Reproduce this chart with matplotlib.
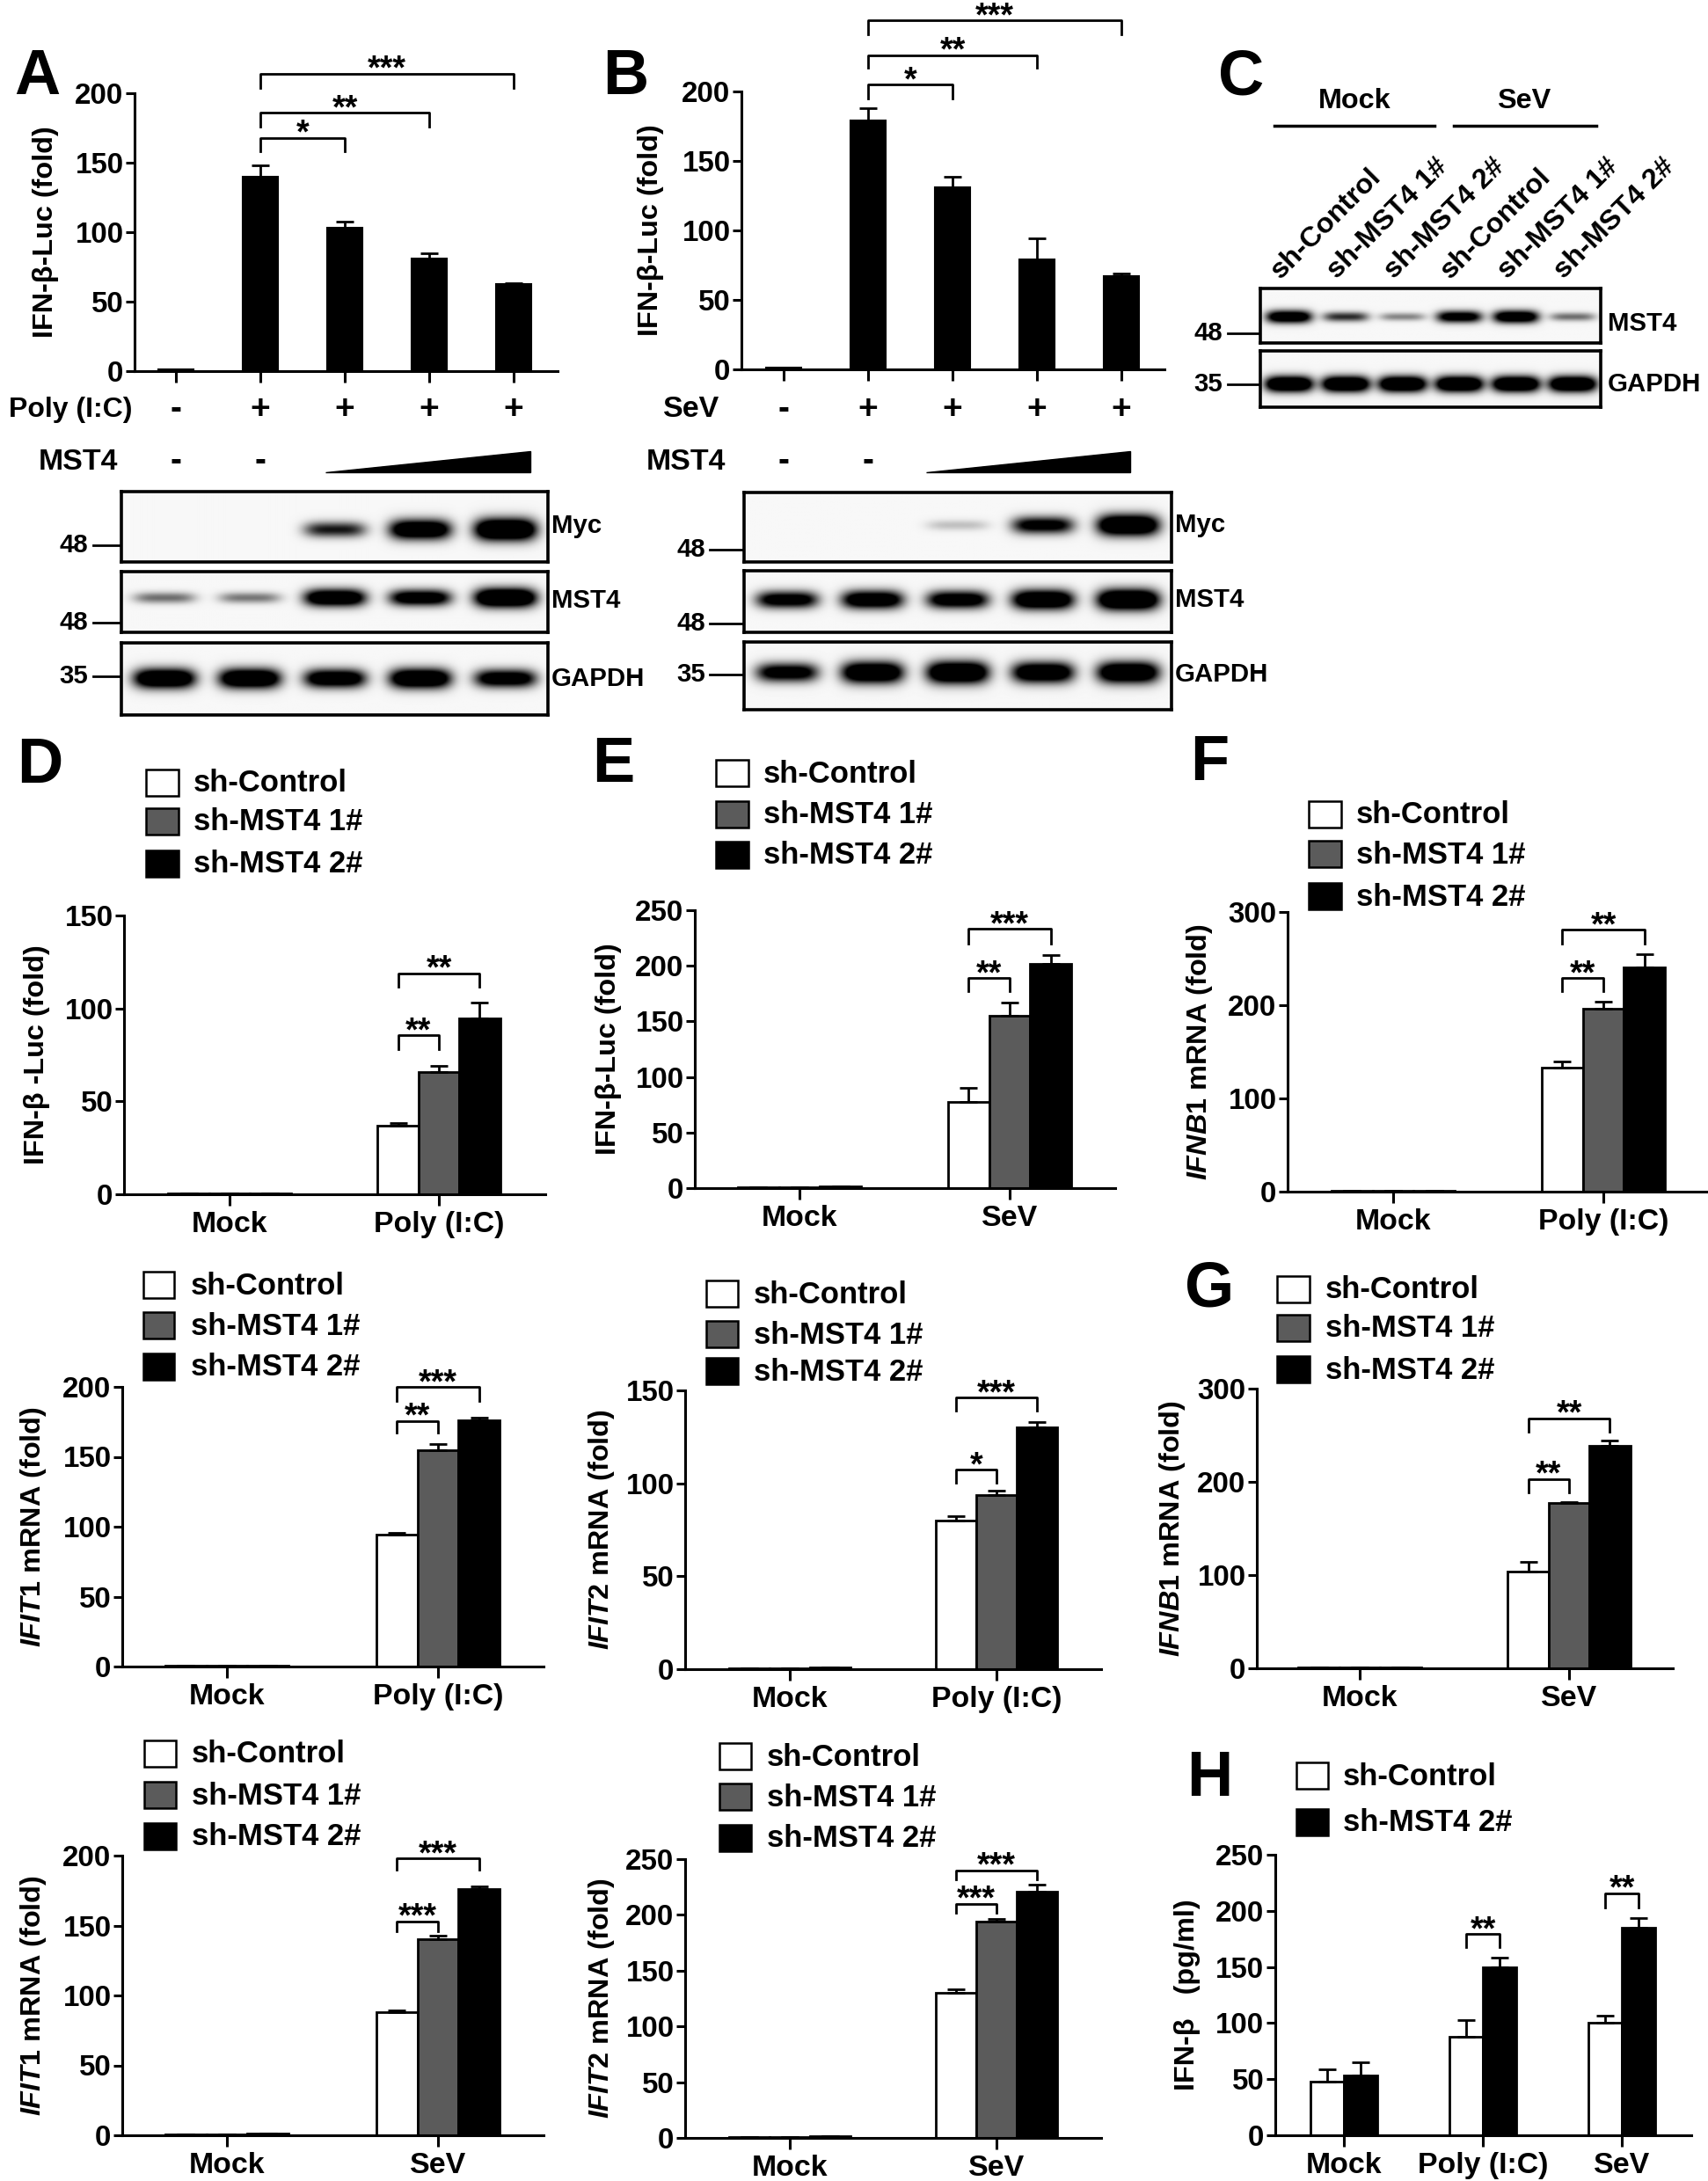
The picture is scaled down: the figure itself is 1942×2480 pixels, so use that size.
import numpy as np
import matplotlib
matplotlib.use("Agg")
import matplotlib.pyplot as plt
from matplotlib import transforms, font_manager
from matplotlib.patches import Rectangle, Polygon

# the figure uses a condensed bold Arial-like face
installed = {f.name for f in font_manager.fontManager.ttflist}
if "Liberation Sans Narrow" in installed:
    FACE, K = "Liberation Sans Narrow", 1.2
else:
    FACE, K = "Liberation Sans", 1.06
WIDE = "Liberation Sans"

plt.rcParams["font.family"] = [FACE, "Liberation Sans", "DejaVu Sans"]
plt.rcParams["font.weight"] = "bold"
plt.rcParams["axes.labelweight"] = "bold"
plt.rcParams["mathtext.fontset"] = "custom"
plt.rcParams["mathtext.it"] = FACE + ":italic:bold"
plt.rcParams["mathtext.rm"] = FACE + ":bold"

W, H = 1942, 2480

# ---------------- data ----------------
# A / B : IFN-b luciferase, increasing MST4
ab_lanes = [0, 1, 2, 3, 4]
treat_signs = ["-", "+", "+", "+", "+"]
mst4_signs = ["-", "-"]
a_mean = [1.0, 140, 103, 81, 62.5]
a_err = [0, 8, 4.5, 4, 1]
a_sig = [(1, 2, 168, 158, "*"), (1, 3, 186, 176, "**"), (1, 4, 214, 204, "***")]
b_mean = [1.0, 179, 131, 79, 67]
b_err = [0, 9, 7.5, 15, 2.3]
b_sig = [(1, 2, 205, 195, "*"), (1, 3, 226, 217, "**"), (1, 4, 251, 241, "***")]

# western blot band strength (0 = no band, 1 = saturated)
a_myc = [0, 0, 0.5, 0.85, 1.0]
a_mst4 = [0.3, 0.28, 0.85, 0.75, 1.0]
a_gapdh = [0.9, 0.9, 0.8, 0.9, 0.75]
b_myc = [0, 0, 0.12, 0.65, 0.95]
b_mst4 = [0.7, 0.8, 0.75, 0.9, 1.0]
b_gapdh = [0.7, 0.9, 0.95, 0.85, 0.9]
c_lanes = ["sh-Control", "sh-MST4 1#", "sh-MST4 2#", "sh-Control", "sh-MST4 1#", "sh-MST4 2#"]
c_mst4 = [0.8, 0.45, 0.25, 0.7, 0.8, 0.3]
c_gapdh = [0.95, 0.95, 0.95, 0.95, 0.95, 0.95]

sh_names = ["sh-Control", "sh-MST4 1#", "sh-MST4 2#"]
sh_colors = ["white", "#5b5b5b", "black"]

# D
d_groups = ["Mock", "Poly (I:C)"]
d_ctrl, d_ctrl_err = [0.6, 37], [0, 1.3]
d_sh1, d_sh1_err = [0.4, 66], [0, 3]
d_sh2, d_sh2_err = [0.6, 94.5], [0, 8.8]
d_sig = [((1, 0), (1, 1), 85.5, 78, "**"), ((1, 0), (1, 2), 119, 111.7, "**")]
# E
e_groups = ["Mock", "SeV"]
e_ctrl, e_ctrl_err = [1, 77.5], [0, 12.5]
e_sh1, e_sh1_err = [0.8, 155], [0, 12]
e_sh2, e_sh2_err = [1.2, 202], [0, 8]
e_sig = [((1, 0), (1, 1), 189, 177, "**"), ((1, 0), (1, 2), 233, 220, "***")]
# F
f_groups = ["Mock", "Poly (I:C)"]
f_ctrl, f_ctrl_err = [1, 133], [0, 7]
f_sh1, f_sh1_err = [0.8, 196], [0, 7.5]
f_sh2, f_sh2_err = [1.2, 241], [0, 13.5]
f_sig = [((1, 0), (1, 1), 229, 215, "**"), ((1, 0), (1, 2), 281, 266.5, "**")]
# IFIT1 / IFIT2 after Poly (I:C)
i1p_ctrl, i1p_ctrl_err = [0.8, 94.3], [0, 1.3]
i1p_sh1, i1p_sh1_err = [0.6, 155], [0, 4.2]
i1p_sh2, i1p_sh2_err = [0.8, 176], [0, 2]
i1p_sig = [((1, 0), (1, 1), 175.7, 167, "**"), ((1, 0), (1, 2), 200, 190, "***")]
i2p_ctrl, i2p_ctrl_err = [0.6, 80], [0, 2.4]
i2p_sh1, i2p_sh1_err = [0.4, 93.5], [0, 2.5]
i2p_sh2, i2p_sh2_err = [0.8, 130], [0, 3]
i2p_sig = [((1, 0), (1, 1), 107.4, 100.5, "*"), ((1, 0), (1, 2), 146.2, 139, "***")]
# G
g_groups = ["Mock", "SeV"]
g_ctrl, g_ctrl_err = [1, 104], [0, 10.5]
g_sh1, g_sh1_err = [0.8, 177], [0, 1.6]
g_sh2, g_sh2_err = [1, 239], [0, 5.3]
g_sig = [((1, 0), (1, 1), 203, 189, "**"), ((1, 0), (1, 2), 268, 254, "**")]
# IFIT1 / IFIT2 after SeV
i1s_ctrl, i1s_ctrl_err = [0.8, 88], [0, 1]
i1s_sh1, i1s_sh1_err = [0.6, 140], [0, 3]
i1s_sh2, i1s_sh2_err = [1.5, 176], [0, 2]
i1s_sig = [((1, 0), (1, 1), 153, 146, "***"), ((1, 0), (1, 2), 198, 190, "***")]
i2s_ctrl, i2s_ctrl_err = [0.8, 130], [0, 3]
i2s_sh1, i2s_sh1_err = [1, 194], [0, 2]
i2s_sh2, i2s_sh2_err = [1.5, 221], [0, 6]
i2s_sig = [((1, 0), (1, 1), 210, 202, "***"), ((1, 0), (1, 2), 240, 232, "***")]
# H : ELISA
h_groups = ["Mock", "Poly (I:C)", "SeV"]
h_names = ["sh-Control", "sh-MST4 2#"]
h_ctrl, h_ctrl_err = [47.6, 88, 100.5], [11.4, 14.3, 6.1]
h_sh2, h_sh2_err = [53, 149.5, 185], [12.4, 8.7, 8.7]
h_sig = [((1, 0), (1, 1), 179.4, 167.5, "**"), ((2, 0), (2, 1), 215.6, 203, "**")]

# font sizes (pt)
FS_TICK = 22.5 * K
FS_XLAB = 23 * K
FS_YLAB = 22 * K
FS_LEG = 23.5 * K
FS_BLOT = 20 * K
FS_STAR = 27

# ---------------- layout helpers ----------------
fig = plt.figure(figsize=(W / 100, H / 100), dpi=100)
ov = fig.add_axes([0, 0, 1, 1])
ov.set_xlim(0, W)
ov.set_ylim(H, 0)
ov.axis("off")


def px_axes(x0, y0, x1, y1):
    return fig.add_axes([x0 / W, 1 - y1 / H, (x1 - x0) / W, (y1 - y0) / H])


def style_axes(ax, ymax, ystep):
    ax.set_ylim(0, ymax)
    ax.set_yticks(np.arange(0, ymax + 1, ystep))
    for s in ["top", "right"]:
        ax.spines[s].set_visible(False)
    for s in ["left", "bottom"]:
        ax.spines[s].set_linewidth(2.2)
    ax.tick_params(axis="y", labelsize=FS_TICK, width=2.2, length=7, pad=2)
    ax.tick_params(axis="x", labelsize=FS_XLAB, width=2.2, length=9, pad=5)


def bracket(ax, x1, x2, ytop, ydrop, label):
    ax.plot([x1, x1, x2, x2], [ydrop, ytop, ytop, ydrop], color="black",
            lw=2, clip_on=False)
    tr = transforms.offset_copy(ax.transData, fig=fig, y=-6, units="dots")
    ax.text((x1 + x2) / 2, ytop, label, ha="center", va="baseline", family=WIDE,
            fontsize=FS_STAR, transform=tr, clip_on=False)


def ylab(ax, text, lx, xl, xr):
    ax.set_ylabel(text, fontsize=FS_YLAB, va="center")
    ax.yaxis.set_label_coords((lx - xl) / (xr - xl), 0.5)


def letter(x, y, s):
    ov.text(x, y, s, fontsize=52, ha="left", va="center", family=WIDE)


def legend(bx0, bx1, rows, tx, names, colors):
    for y, nm, col in zip(rows, names, colors):
        ov.add_patch(Rectangle((bx0, y - 15), bx1 - bx0, 30, facecolor=col,
                               edgecolor="black", lw=1.8))
        ov.text(tx, y + 1, nm, ha="left", va="center", fontsize=FS_LEG)


def blot(x0, x1, y0, y1, levels, band_y, thick, half_w=0.36):
    ax = px_axes(x0, y0, x1, y1)
    n = len(levels)
    xs = np.linspace(-0.5, n - 0.5, 60 * n)
    ys = np.linspace(0, 1, 80)
    X, Y = np.meshgrid(xs, ys)
    img = np.full(X.shape, 0.03)
    for i, lv in enumerate(levels):
        if lv <= 0:
            continue
        t = thick * (0.5 + 0.7 * lv)
        img += 1.8 * lv * np.exp(-np.abs((X - i) / half_w) ** 4) * np.exp(-((Y - band_y) / t) ** 2)
    ax.imshow(np.clip(img, 0, 1), cmap="gray_r", vmin=0, vmax=1,
              extent=(-0.5, n - 0.5, 1, 0), aspect="auto", interpolation="bilinear")
    ax.set_xticks([])
    ax.set_yticks([])
    for sp in ax.spines.values():
        sp.set_linewidth(2.6)
    return ax


def mw_mark(x_text, x0, x1, y, s):
    ov.plot([x0, x1], [y, y], color="black", lw=2)
    ov.text(x_text, y, s, ha="right", va="center", fontsize=FS_BLOT)


def lane_panel(xl, xr, yb, yt, c0, step, mean, err, sig, ylabel, lx):
    ax = px_axes(xl, yt, xr, yb)
    ax.set_xlim((xl - c0) / step, (xr - c0) / step)
    ax.bar(ab_lanes, mean, width=0.42, color="black", edgecolor="black", lw=1.5,
           yerr=[np.zeros(len(err)), err],
           error_kw=dict(ecolor="black", elinewidth=2, capsize=7, capthick=2))
    style_axes(ax, 200, 50)
    ax.set_xticks(ab_lanes)
    ax.set_xticklabels([])
    for i, j, yt_, yd, lab in sig:
        bracket(ax, ab_lanes[i], ab_lanes[j], yt_, yd, lab)
    ylab(ax, ylabel, lx, xl, xr)
    return ax


def group_panel(xl, xr, yb, yt, c0, c1, ymax, ystep, groups, series, errs,
                colors, sig, ylabel, lx, w=0.195):
    ax = px_axes(xl, yt, xr, yb)
    unit = c1 - c0
    ax.set_xlim((xl - c0) / unit, (xr - c0) / unit)
    ns = len(series)
    gx = np.arange(len(groups))
    for s, (vals, ers, col) in enumerate(zip(series, errs, colors)):
        x = gx + (s - (ns - 1) / 2) * w
        ax.bar(x, vals, width=w, color=col, edgecolor="black", lw=2,
               yerr=[np.zeros(len(ers)), ers],
               error_kw=dict(ecolor="black", elinewidth=2, capsize=7, capthick=2))
    style_axes(ax, ymax, ystep)
    ax.set_xticks(gx)
    ax.set_xticklabels(groups)
    for (g1, s1), (g2, s2), ytop, ydrop, lab in sig:
        x1 = g1 + (s1 - (ns - 1) / 2) * w
        x2 = g2 + (s2 - (ns - 1) / 2) * w
        bracket(ax, x1, x2, ytop, ydrop, lab)
    ylab(ax, ylabel, lx, xl, xr)
    return ax


# ---------------- A ----------------
letter(16, 88, "A")
axA = lane_panel(153, 634, 422, 106, 200, 96, a_mean, a_err, a_sig, "IFN-β-Luc (fold)", 52)
trA = transforms.blended_transform_factory(axA.transData, ov.transData)
ov.text(150, 466, "Poly (I:C)", ha="right", va="center", fontsize=23)
ov.text(134, 525, "MST4", ha="right", va="center", fontsize=FS_XLAB)
for i, s in zip(ab_lanes, treat_signs):
    ov.text(i, 466, s, ha="center", va="center", fontsize=28, family=WIDE, transform=trA)
for i, s in zip(ab_lanes, mst4_signs):
    ov.text(i, 525, s, ha="center", va="center", fontsize=28, family=WIDE, transform=trA)
ov.add_patch(Polygon([(370, 537), (603, 537), (603, 513)], closed=True, color="black"))

blot(138, 623, 559, 639, a_myc, 0.54, 0.13)
blot(138, 623, 650, 719, a_mst4, 0.43, 0.13)
blot(138, 623, 731, 813, a_gapdh, 0.5, 0.12)
mw_mark(100, 106, 138, 620, "48")
mw_mark(100, 106, 138, 708, "48")
mw_mark(100, 106, 138, 769, "35")
ov.text(627, 598, "Myc", ha="left", va="center", fontsize=FS_BLOT)
ov.text(627, 683, "MST4", ha="left", va="center", fontsize=FS_BLOT)
ov.text(627, 772, "GAPDH", ha="left", va="center", fontsize=FS_BLOT)

# ---------------- B ----------------
letter(685, 88, "B")
axB = lane_panel(843, 1324, 420, 104, 891, 96, b_mean, b_err, b_sig, "IFN-β-Luc (fold)", 740)
trB = transforms.blended_transform_factory(axB.transData, ov.transData)
ov.text(818, 466, "SeV", ha="right", va="center", fontsize=FS_XLAB)
ov.text(825, 525, "MST4", ha="right", va="center", fontsize=FS_XLAB)
for i, s in zip(ab_lanes, treat_signs):
    ov.text(i, 466, s, ha="center", va="center", fontsize=28, family=WIDE, transform=trB)
for i, s in zip(ab_lanes, mst4_signs):
    ov.text(i, 525, s, ha="center", va="center", fontsize=28, family=WIDE, transform=trB)
ov.add_patch(Polygon([(1053, 537), (1285, 537), (1285, 513)], closed=True, color="black"))

blot(846, 1332, 560, 639, b_myc, 0.47, 0.13)
blot(846, 1332, 649, 719, b_mst4, 0.47, 0.14)
blot(846, 1332, 730, 807, b_gapdh, 0.45, 0.14)
mw_mark(802, 807, 846, 625, "48")
mw_mark(802, 807, 846, 709, "48")
mw_mark(802, 807, 846, 767, "35")
ov.text(1336, 597, "Myc", ha="left", va="center", fontsize=FS_BLOT)
ov.text(1336, 682, "MST4", ha="left", va="center", fontsize=FS_BLOT)
ov.text(1336, 767, "GAPDH", ha="left", va="center", fontsize=FS_BLOT)

# ---------------- C ----------------
letter(1385, 88, "C")
ov.text(1540, 115, "Mock", ha="center", va="center", fontsize=22 * K)
ov.text(1733, 115, "SeV", ha="center", va="center", fontsize=22 * K)
ov.plot([1449, 1631], [143, 143], color="black", lw=2.5)
ov.plot([1653, 1815], [143, 143], color="black", lw=2.5)
axC1 = blot(1433, 1820, 328, 390, c_mst4, 0.52, 0.11, half_w=0.4)
blot(1433, 1820, 399, 463, c_gapdh, 0.59, 0.12, half_w=0.42)
trC = transforms.blended_transform_factory(axC1.transData, ov.transData)
for i, lab in enumerate(c_lanes):
    ov.text(i - 0.15, 318, lab, rotation=45, rotation_mode="anchor", ha="left",
            va="baseline", fontsize=22 * K, transform=trC)
mw_mark(1390, 1396, 1433, 379, "48")
mw_mark(1390, 1396, 1433, 437, "35")
ov.text(1828, 368, "MST4", ha="left", va="center", fontsize=FS_BLOT)
ov.text(1828, 437, "GAPDH", ha="left", va="center", fontsize=FS_BLOT)

# ---------------- D - H ----------------
letter(19, 871, "D")
legend(166, 203, [890, 934, 982], 220, sh_names, sh_colors)
group_panel(141, 620, 1358, 1041, 261, 499, 150, 50, d_groups,
            [d_ctrl, d_sh1, d_sh2], [d_ctrl_err, d_sh1_err, d_sh2_err], sh_colors,
            d_sig, "IFN-β -Luc (fold)", 42)

letter(673, 870, "E")
legend(814, 851, [879, 926, 972], 868, sh_names, sh_colors)
group_panel(790, 1268, 1351, 1035, 909, 1148, 250, 50, e_groups,
            [e_ctrl, e_sh1, e_sh2], [e_ctrl_err, e_sh1_err, e_sh2_err], sh_colors,
            e_sig, "IFN-β-Luc (fold)", 692)

letter(1353, 868, "F")
legend(1488, 1525, [926, 971, 1019], 1542, sh_names, sh_colors)
group_panel(1464, 1940, 1355, 1037, 1584, 1823, 300, 100, f_groups,
            [f_ctrl, f_sh1, f_sh2], [f_ctrl_err, f_sh1_err, f_sh2_err], sh_colors,
            f_sig, r"$\mathit{IFNB1}$ mRNA (fold)", 1364)

legend(163, 198, [1461, 1507, 1554], 217, sh_names, sh_colors)
group_panel(139, 618, 1895, 1577, 258, 498, 200, 50, d_groups,
            [i1p_ctrl, i1p_sh1, i1p_sh2], [i1p_ctrl_err, i1p_sh1_err, i1p_sh2_err], sh_colors,
            i1p_sig, r"$\mathit{IFIT1}$ mRNA (fold)", 38)

legend(803, 839, [1471, 1517, 1559], 857, sh_names, sh_colors)
group_panel(779, 1252, 1898, 1581, 898, 1133, 150, 50, d_groups,
            [i2p_ctrl, i2p_sh1, i2p_sh2], [i2p_ctrl_err, i2p_sh1_err, i2p_sh2_err], sh_colors,
            i2p_sig, r"$\mathit{IFIT2}$ mRNA (fold)", 684)

letter(1347, 1466, "G")
legend(1452, 1489, [1466, 1510, 1557], 1507, sh_names, sh_colors)
group_panel(1429, 1902, 1897, 1579, 1546, 1784, 300, 100, g_groups,
            [g_ctrl, g_sh1, g_sh2], [g_ctrl_err, g_sh1_err, g_sh2_err], sh_colors,
            g_sig, r"$\mathit{IFNB1}$ mRNA (fold)", 1333)

legend(164, 200, [1994, 2041, 2088], 218, sh_names, sh_colors)
group_panel(139, 618, 2428, 2110, 258, 498, 200, 50, e_groups,
            [i1s_ctrl, i1s_sh1, i1s_sh2], [i1s_ctrl_err, i1s_sh1_err, i1s_sh2_err], sh_colors,
            i1s_sig, r"$\mathit{IFIT1}$ mRNA (fold)", 38)

legend(818, 854, [1997, 2043, 2090], 872, sh_names, sh_colors)
group_panel(779, 1252, 2431, 2114, 898, 1133, 250, 50, e_groups,
            [i2s_ctrl, i2s_sh1, i2s_sh2], [i2s_ctrl_err, i2s_sh1_err, i2s_sh2_err], sh_colors,
            i2s_sig, r"$\mathit{IFIT2}$ mRNA (fold)", 684)

letter(1349, 2023, "H")
legend(1474, 1510, [2019, 2072], 1527, h_names, ["white", "black"])
group_panel(1450, 1923, 2428, 2109, 1528, 1686, 250, 50, h_groups,
            [h_ctrl, h_sh2], [h_ctrl_err, h_sh2_err], ["white", "black"],
            h_sig, "IFN-β   (pg/ml)", 1350, w=0.24)

fig.savefig("out.png", dpi=100)
